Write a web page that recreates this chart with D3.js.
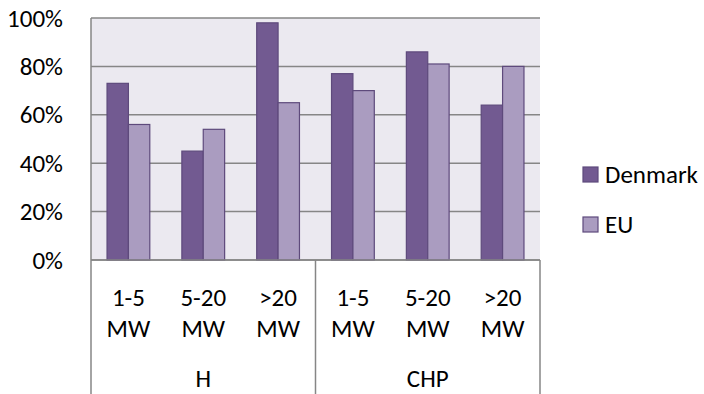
<!DOCTYPE html>
<html><head><meta charset="utf-8">
<script src="https://cdnjs.cloudflare.com/ajax/libs/d3/7.8.5/d3.min.js"></script>
<style>body{margin:0;background:#fff}svg{display:block;font-family:Carlito,Calibri,Lato,sans-serif}</style>
</head><body><svg id="c" width="704" height="394"></svg>
<script>
const categories = ["1-5 MW","5-20 MW",">20 MW","1-5 MW","5-20 MW",">20 MW"];
const groups = ["H","CHP"];
const series = ["Denmark","EU"];
const denmark = [0.73,0.45,0.98,0.77,0.86,0.64];
const eu = [0.56,0.54,0.65,0.70,0.81,0.80];
const yTicks = [0,0.2,0.4,0.6,0.8,1.0];
const colors = ["#725A91","#AA9CC0"];

const svg = d3.select("#c");
const L=91,R=540,T=18,B=260;
const FS=25;
const idx = d3.range(categories.length);
const x0 = d3.scaleBand().domain(idx).range([L,R]).padding(0);
const x1 = d3.scaleBand().domain(series).range([0,x0.bandwidth()]).paddingInner(0).paddingOuter(0.75);
const y = d3.scaleLinear().domain([0,1]).range([B,T]);
const vals = [denmark, eu];

svg.append("rect").attr("x",L).attr("y",T).attr("width",R-L).attr("height",B-T).attr("fill","#EBE9F0");
svg.append("g").selectAll("line").data(yTicks).join("line")
  .attr("x1",L).attr("x2",R).attr("y1",d=>y(d)).attr("y2",d=>y(d))
  .attr("stroke","#868686").attr("stroke-width",1.5);

const yAxis = d3.axisLeft(y).tickValues(yTicks).tickFormat(d3.format(".0%")).tickSize(0).tickPadding(28);
const ya = svg.append("g").attr("transform",`translate(${L},0)`).call(yAxis);
ya.select(".domain").remove();
ya.selectAll("text").attr("font-size",FS).attr("fill","#000").attr("font-family","Carlito,Calibri,Lato,sans-serif");

series.forEach((s,si)=>{
  svg.append("g").selectAll("rect").data(idx).join("rect")
    .attr("x",i=>x0(i)+x1(s)).attr("width",x1.bandwidth())
    .attr("y",i=>y(vals[si][i])).attr("height",i=>y(0)-y(vals[si][i]))
    .attr("fill",colors[si]).attr("stroke","#5E4A7C").attr("stroke-width",1.2);
});

// axis lines
svg.append("line").attr("x1",L).attr("x2",L).attr("y1",T).attr("y2",394).attr("stroke","#868686").attr("stroke-width",1.5);
svg.append("line").attr("x1",L).attr("x2",R).attr("y1",B).attr("y2",B).attr("stroke","#868686").attr("stroke-width",1.5);
const gx = d3.scaleBand().domain(groups).range([L,R]);
groups.forEach(g=>{
  svg.append("line").attr("x1",gx(g)+gx.bandwidth()).attr("x2",gx(g)+gx.bandwidth()).attr("y1",B).attr("y2",394).attr("stroke","#868686").attr("stroke-width",1.5);
  svg.append("text").attr("x",gx(g)+gx.bandwidth()/2).attr("y",387).attr("text-anchor","middle").attr("font-size",FS).text(g);
});
idx.forEach(i=>{
  const parts = categories[i].split(" ");
  parts.forEach((p,k)=>{
    svg.append("text").attr("x",x0(i)+x0.bandwidth()/2).attr("y",306+k*31).attr("text-anchor","middle").attr("font-size",FS).text(p);
  });
});

// legend
series.forEach((s,si)=>{
  const ly = 167+si*50;
  svg.append("rect").attr("x",583).attr("y",ly).attr("width",15).attr("height",15).attr("fill",colors[si]).attr("stroke","#5E4A7C").attr("stroke-width",1.2);
  svg.append("text").attr("x",605).attr("y",ly+16).attr("font-size",FS).text(s);
});
</script></body></html>
